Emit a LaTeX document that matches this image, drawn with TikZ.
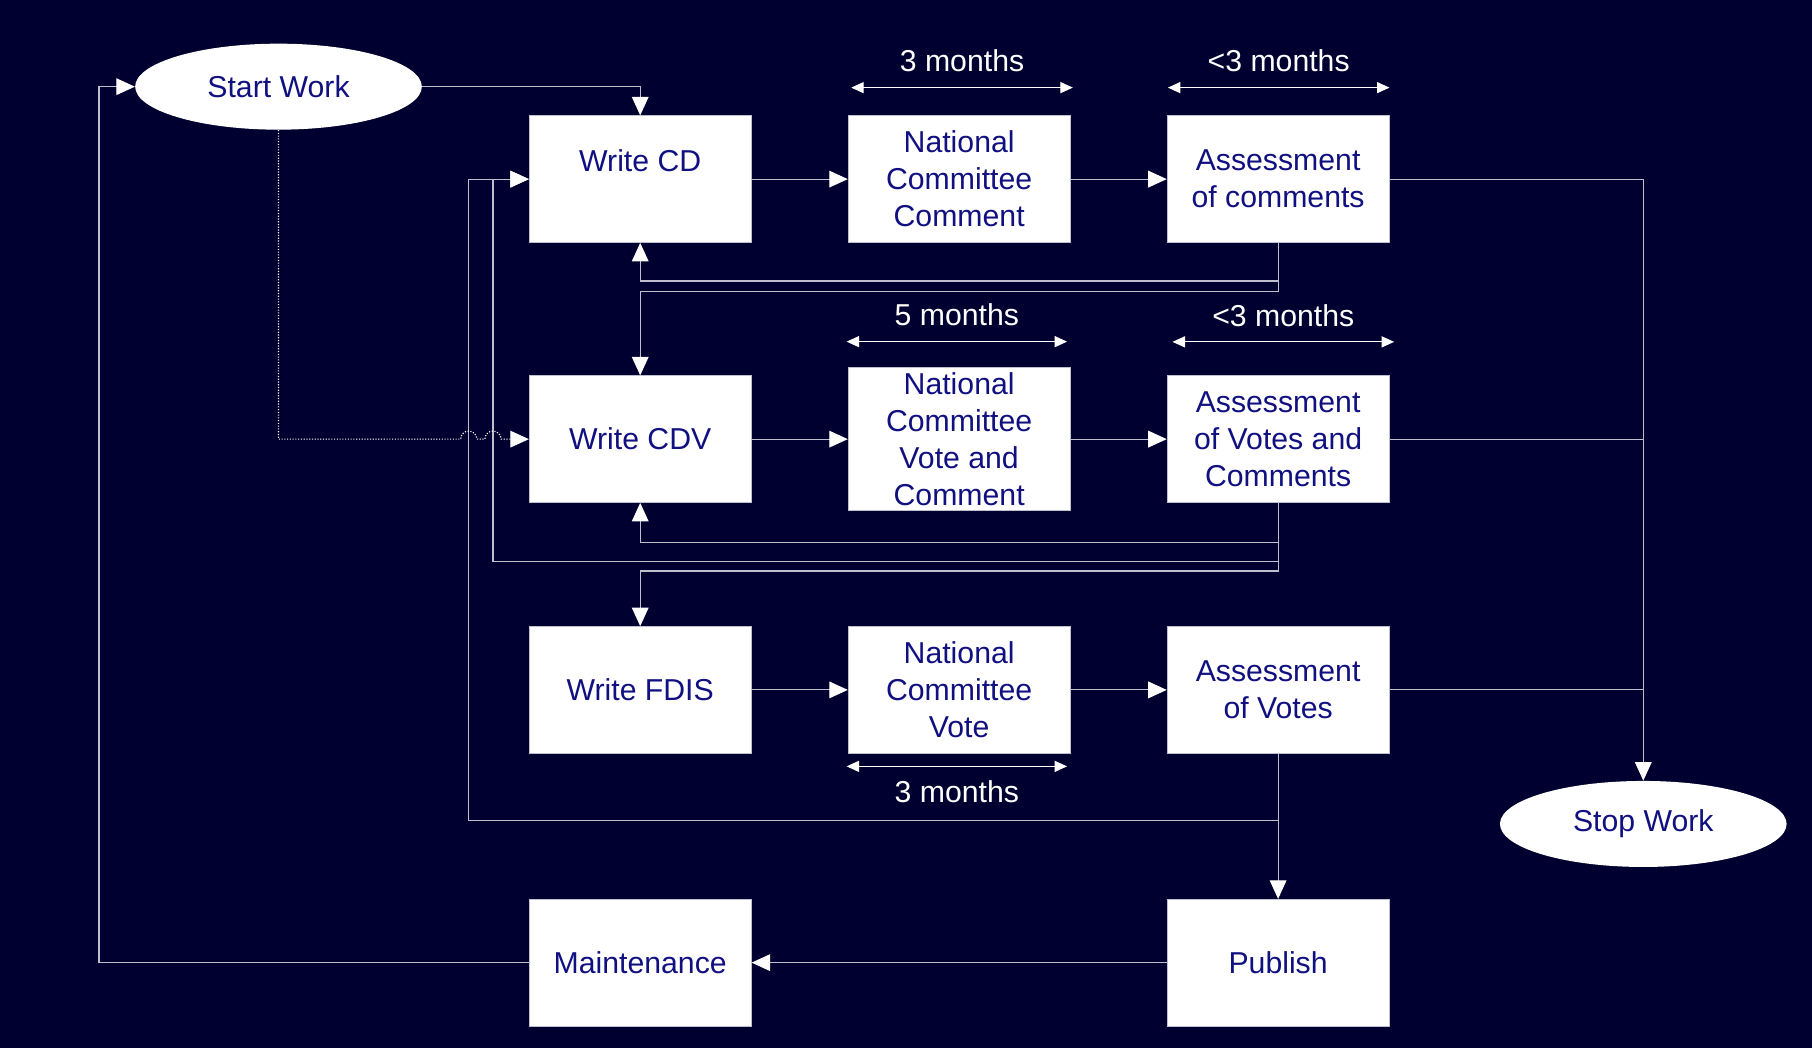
\documentclass[tikz,border=0pt]{standalone}
\usepackage{fontspec}
\setmainfont{Liberation Sans}
\usetikzlibrary{calc, arrows.meta, shapes.geometric}
\definecolor{bgnavy}{RGB}{0,0,48}
\definecolor{boxtext}{RGB}{16,16,128}
\definecolor{wire}{RGB}{190,190,205}

\begin{document}
\begin{tikzpicture}
    [x=0.025cm, y=-0.025cm,
    stagebox/.style={rectangle, minimum width=4.8cm, minimum height=2.74cm, draw=wire, line width=0.5pt, fill=white, text=boxtext, align=center, inner sep=0pt, font=\fontsize{18.6pt}{22.8pt}\selectfont},
    terminal/.style={ellipse, minimum width=6.2cm, minimum height=1.86cm, fill=white, text=boxtext, inner sep=0pt, font=\fontsize{18.6pt}{22.8pt}\selectfont},
    flow/.style={draw=wire, line width=0.7pt, -{Triangle[length=0.4cm, width=0.36cm, color=white, fill=white]}},
    jumpflow/.style={flow, draw=white, densely dotted},
    span/.style={draw=white, line width=0.7pt, {Triangle[length=0.27cm, width=0.24cm]}-{Triangle[length=0.27cm, width=0.24cm]}},
    spanlabel/.style={text=white, font=\fontsize{18.6pt}{22.8pt}\selectfont}]
\fill[bgnavy] (0,0) rectangle (1568,907);
\node[terminal] (start) at (241,75) {Start Work};
\node[terminal] (stop) at (1422,713) {Stop Work};
\node[stagebox] (cd) at (554,155) {Write CD\\ \mbox{}};
\node[stagebox] (ncc) at (830,155) {National\\Committee\\Comment};
\node[stagebox] (aoc) at (1106,155) {Assessment\\of comments};
\node[stagebox] (cdv) at (554,380) {Write CDV};
\node[stagebox, minimum height=3.1cm] (ncvc) at (830,380) {National\\Committee\\Vote and\\Comment};
\node[stagebox] (avc) at (1106,380) {Assessment\\of Votes and\\Comments};
\node[stagebox] (fdis) at (554,597) {Write FDIS};
\node[stagebox] (ncv) at (830,597) {National\\Committee\\Vote};
\node[stagebox] (av) at (1106,597) {Assessment\\of Votes};
\node[stagebox] (maint) at (554,833) {Maintenance};
\node[stagebox] (pub) at (1106,833) {Publish};
\coordinate (busin) at ($(cd.west)+(-31,0)$);
\coordinate (busout) at ($(cd.west)+(-52,0)$);
\draw[span] ($(ncc.north west)+(3,-24)$) -- ($(ncc.north east)+(2,-24)$) node[spanlabel, midway, yshift=0.575cm] {3 months};
\draw[span] ($(aoc.north west)+(1,-24)$) -- ($(aoc.north east)+(0,-24)$) node[spanlabel, midway, yshift=0.575cm] {<3 months};
\draw[span] ($(ncvc.north west)+(-1,-22)$) -- ($(ncvc.north east)+(-3,-22)$) node[spanlabel, midway, yshift=0.575cm] {5 months};
\draw[span] ($(avc.north west)+(5,-29)$) -- ($(avc.north east)+(4,-29)$) node[spanlabel, midway, yshift=0.575cm] {<3 months};
\draw[span] ($(ncv.south west)+(-1,11)$) -- ($(ncv.south east)+(-3,11)$) node[spanlabel, midway, yshift=-0.55cm] {3 months};
\draw[flow] (start.east) -| (cd.north);
\draw[flow] (cd.east) -- (ncc.west);
\draw[flow] (ncc.east) -- (aoc.west);
\draw[flow] (aoc.south) -- ++(0,33) -| (cd.south);
\draw[flow] (aoc.south) -- ++(0,42) -| (cdv.north);
\draw[flow] (aoc.east) -| (stop.north);
\draw[flow] (cdv.east) -- (ncvc.west);
\draw[flow] (ncvc.east) -- (avc.west);
\draw[flow] (avc.south) -- ++(0,34) -| (cdv.south);
\draw[flow] (avc.south) -- ++(0,51) -| (busin) -- (cd.west);
\draw[flow] (avc.south) -- ++(0,59) -| (fdis.north);
\draw[draw=wire, line width=0.7pt] (avc.east) -- (avc.east -| stop.north);
\draw[flow] (fdis.east) -- (ncv.west);
\draw[flow] (ncv.east) -- (av.west);
\draw[draw=wire, line width=0.7pt] (av.east) -- (av.east -| stop.north);
\draw[flow] (av.south) -- ++(0,58) -| (busout) -- (cd.west);
\draw[flow] (av.south) -- (pub.north);
\draw[flow] (pub.west) -- (maint.east);
\draw[flow] (maint.west) -- ++(-372,0) |- (start.west);
\draw[jumpflow] (start.south) |- ($(busout |- cdv.west)+(-7,0)$) arc[start angle=180, end angle=360, radius=7] -- ($(busin |- cdv.west)+(-7,0)$) arc[start angle=180, end angle=360, radius=7] -- (cdv.west);
\end{tikzpicture}
\end{document}
